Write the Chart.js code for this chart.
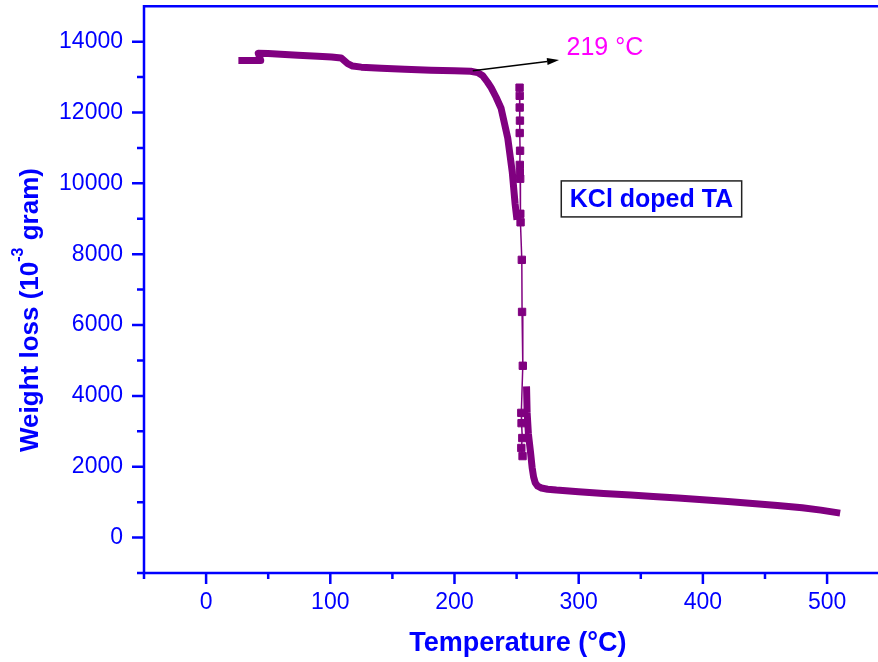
<!DOCTYPE html>
<html><head><meta charset="utf-8">
<script src="https://cdn.jsdelivr.net/npm/chart.js@4"></script>
<style>html,body{margin:0;padding:0;background:#fff}canvas{display:block}</style>
</head><body>
<canvas id="c" width="878" height="662"></canvas>
<script>
// ---- data ----
const bandTemp1   = [26, 44, 42, 50, 60, 74, 90, 101, 108.7, 111, 114, 118, 125, 141, 160, 181, 200, 213, 218.7, 222.8, 226.5, 229.5, 233.5, 237.5, 242.9, 246.5, 248.8, 250.3];
const bandWeight1 = [13470, 13470, 13670, 13665, 13645, 13615, 13585, 13565, 13540, 13470, 13380, 13310, 13280, 13250, 13220, 13190, 13175, 13165, 13125, 13035, 12860, 12700, 12430, 12120, 11270, 10320, 9420, 8970];
const dropTemp    = [252.4, 252.5, 252.5, 252.7, 252.5, 252.8, 252.6, 252.6, 252.9, 253.0, 253.2, 254.2, 254.4, 255.0, 253.8, 254.0, 254.6, 253.8, 254.8];
const dropWeight  = [12700, 12470, 12140, 11770, 11420, 10920, 10520, 10310, 10130, 9140, 8900, 7840, 6370, 4850, 3520, 3230, 2810, 2530, 2300];
const bandTemp2   = [258, 258.5, 259.5, 261.3, 262.5, 263.7, 265, 267, 270, 275, 282, 300, 320, 342, 360, 380, 400, 420, 440, 460, 480, 495, 510.5];
const bandWeight2 = [4270, 3520, 2930, 2380, 1980, 1710, 1550, 1450, 1400, 1365, 1340, 1295, 1245, 1200, 1160, 1120, 1070, 1020, 965, 905, 840, 775, 690];

const xMajorTicks = [0, 100, 200, 300, 400, 500];
const xMinorTicks = [-50, 50, 150, 250, 350, 450];
const yMajorTicks = [0, 2000, 4000, 6000, 8000, 10000, 12000, 14000];
const yMinorTicks = [-1000, 1000, 3000, 5000, 7000, 9000, 11000, 13000];

const xTitle = 'Temperature (°C)';
const yTitleParts = ['Weight loss (10', '-3', ' gram)'];
const peakLabel = '219 °C';
const sampleLabel = 'KCl doped TA';
const arrowFrom = [214.7, 13180];
const arrowTo = [284.2, 13480];
const peakLabelPos = [290.2, 13620];
const sampleLabelPos = [358.6, 9560];

// ---- drawing ----
const PURPLE = '#800080';
const BLUE = '#0000ff';
const FONT = '"Liberation Sans", Arial, Helvetica, sans-serif';
function pts(xs, ys) { return xs.map((x, i) => ({ x: x, y: ys[i] })); }

const decor = {
  id: 'decor',
  afterDraw(chart) {
    const ctx = chart.ctx, a = chart.chartArea, xs = chart.scales.x, ys = chart.scales.y;
    ctx.save();
    ctx.strokeStyle = BLUE; ctx.lineWidth = 2.5; ctx.lineJoin = 'miter'; ctx.lineCap = 'butt';
    ctx.beginPath();
    ctx.moveTo(chart.width, a.bottom); ctx.lineTo(a.left, a.bottom);
    ctx.lineTo(a.left, a.top); ctx.lineTo(chart.width, a.top);
    ctx.stroke();
    ctx.beginPath();
    xMajorTicks.forEach(v => { const p = xs.getPixelForValue(v); ctx.moveTo(p, a.bottom); ctx.lineTo(p, a.bottom + 11); });
    xMinorTicks.forEach(v => { const p = xs.getPixelForValue(v); ctx.moveTo(p, a.bottom); ctx.lineTo(p, a.bottom + 6); });
    yMajorTicks.forEach(v => { const p = ys.getPixelForValue(v); ctx.moveTo(a.left, p); ctx.lineTo(a.left - 12, p); });
    yMinorTicks.forEach(v => { const p = ys.getPixelForValue(v); ctx.moveTo(a.left, p); ctx.lineTo(a.left - 7, p); });
    ctx.stroke();

    ctx.fillStyle = BLUE;
    ctx.font = 'bold 27px ' + FONT;
    ctx.textAlign = 'center'; ctx.textBaseline = 'alphabetic';
    ctx.fillText(xTitle, xs.getPixelForValue(251), 651);

    ctx.save();
    ctx.translate(37.5, 310);
    ctx.rotate(-Math.PI / 2);
    ctx.textAlign = 'left';
    const big = 'bold 26px ' + FONT, small = 'bold 16px ' + FONT;
    ctx.font = big; const w0 = ctx.measureText(yTitleParts[0]).width, w2 = ctx.measureText(yTitleParts[2]).width;
    ctx.font = small; const w1 = ctx.measureText(yTitleParts[1]).width;
    let sx = -(w0 + w1 + w2) / 2;
    ctx.font = big; ctx.fillText(yTitleParts[0], sx, 0); sx += w0;
    ctx.font = small; ctx.fillText(yTitleParts[1], sx, -15); sx += w1;
    ctx.font = big; ctx.fillText(yTitleParts[2], sx, 0);
    ctx.restore();

    const x0 = xs.getPixelForValue(arrowFrom[0]), y0 = ys.getPixelForValue(arrowFrom[1]);
    const x1 = xs.getPixelForValue(arrowTo[0]), y1 = ys.getPixelForValue(arrowTo[1]);
    const ang = Math.atan2(y1 - y0, x1 - x0);
    const L = 12, W = 3.6;
    ctx.strokeStyle = '#000'; ctx.fillStyle = '#000'; ctx.lineWidth = 1.5;
    ctx.beginPath(); ctx.moveTo(x0, y0);
    ctx.lineTo(x1 - Math.cos(ang) * L, y1 - Math.sin(ang) * L); ctx.stroke();
    ctx.beginPath();
    ctx.moveTo(x1, y1);
    ctx.lineTo(x1 - Math.cos(ang) * L + Math.sin(ang) * W, y1 - Math.sin(ang) * L - Math.cos(ang) * W);
    ctx.lineTo(x1 - Math.cos(ang) * L - Math.sin(ang) * W, y1 - Math.sin(ang) * L + Math.cos(ang) * W);
    ctx.closePath(); ctx.fill();

    ctx.fillStyle = '#ff00ff';
    ctx.font = '25px ' + FONT;
    ctx.textAlign = 'left'; ctx.textBaseline = 'alphabetic';
    ctx.fillText(peakLabel, xs.getPixelForValue(peakLabelPos[0]), ys.getPixelForValue(peakLabelPos[1]));

    const cx = xs.getPixelForValue(sampleLabelPos[0]), cy = ys.getPixelForValue(sampleLabelPos[1]);
    ctx.font = 'bold 25px ' + FONT;
    const tw = ctx.measureText(sampleLabel).width;
    const bw = tw + 17, bh = 36;
    ctx.fillStyle = '#fff';
    ctx.fillRect(cx - bw / 2, cy - bh / 2, bw, bh);
    ctx.strokeStyle = '#222'; ctx.lineWidth = 1.5;
    ctx.strokeRect(cx - bw / 2, cy - bh / 2, bw, bh);
    ctx.fillStyle = BLUE; ctx.textAlign = 'center'; ctx.textBaseline = 'middle';
    ctx.fillText(sampleLabel, cx, cy + 1);
    ctx.restore();
  }
};

const bandStyle = {
  showLine: true, borderColor: PURPLE, backgroundColor: PURPLE, borderWidth: 7,
  pointRadius: 0, borderCapStyle: 'butt', borderJoinStyle: 'round', tension: 0
};

new Chart(document.getElementById('c'), {
  type: 'scatter',
  data: {
    datasets: [
      Object.assign({ label: 'band1', data: pts(bandTemp1, bandWeight1) }, bandStyle),
      { label: 'drop', data: pts(dropTemp, dropWeight), showLine: true, borderColor: PURPLE, borderWidth: 1.5,
        pointStyle: 'rect', pointRadius: 5.2, pointBackgroundColor: PURPLE, pointBorderColor: PURPLE, pointBorderWidth: 1, tension: 0 },
      Object.assign({ label: 'band2', data: pts(bandTemp2, bandWeight2) }, bandStyle)
    ]
  },
  options: {
    responsive: false, animation: false, devicePixelRatio: 1,
    layout: { padding: { top: 6, left: 0, right: 0, bottom: 0 } },
    plugins: { legend: { display: false }, tooltip: { enabled: false } },
    scales: {
      x: {
        type: 'linear', min: -50, max: 536,
        grid: { display: false, drawTicks: false }, border: { display: false },
        ticks: { color: BLUE, font: { family: FONT, size: 23 }, padding: 16, autoSkip: false, maxRotation: 0,
          callback: v => xMajorTicks.includes(v) ? String(v) : '' },
        afterBuildTicks: s => { s.ticks = xMinorTicks.concat(xMajorTicks).sort((p, q) => p - q).map(v => ({ value: v })); },
        afterFit: s => { s.height = 89; s.paddingLeft = 0; s.paddingRight = 0; }
      },
      y: {
        type: 'linear', min: -1000, max: 15000,
        grid: { display: false, drawTicks: false }, border: { display: false },
        ticks: { color: BLUE, font: { family: FONT, size: 23 }, padding: 21, autoSkip: false,
          callback: v => yMajorTicks.includes(v) ? String(v) : '' },
        afterBuildTicks: s => { s.ticks = yMinorTicks.concat(yMajorTicks).sort((p, q) => p - q).map(v => ({ value: v })); },
        afterFit: s => { s.width = 144; s.paddingTop = 0; s.paddingBottom = 0; }
      }
    }
  },
  plugins: [decor]
});
</script>
</body></html>
